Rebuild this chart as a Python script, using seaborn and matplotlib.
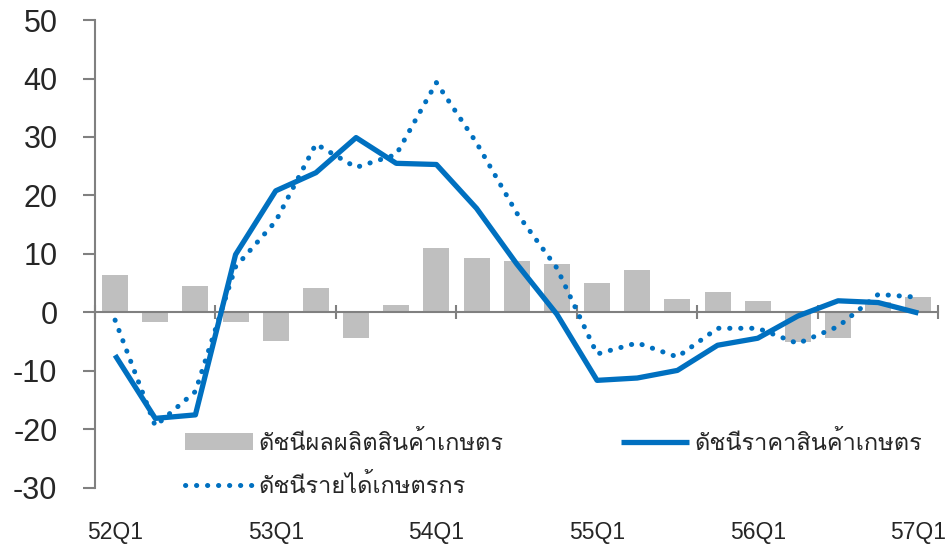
import numpy as np
import pandas as pd
import matplotlib
matplotlib.use("Agg")
import matplotlib.pyplot as plt
import seaborn as sns
from matplotlib import font_manager
from matplotlib.ft2font import FT2Font

quarters = ["52Q1", "52Q2", "52Q3", "52Q4", "53Q1", "53Q2", "53Q3", "53Q4",
            "54Q1", "54Q2", "54Q3", "54Q4", "55Q1", "55Q2", "55Q3", "55Q4",
            "56Q1", "56Q2", "56Q3", "56Q4", "57Q1"]
production = [6.4, -1.7, 4.6, -1.7, -4.8, 4.2, -4.3, 1.2, 11.1, 9.4, 8.8,
              8.3, 5.1, 7.3, 2.3, 3.5, 1.9, -5.1, -4.4, 1.8, 2.7]
price = [-7.3, -18.1, -17.5, 9.9, 20.8, 23.9, 29.9, 25.5, 25.3, 17.8, 8.3,
         -0.3, -11.6, -11.2, -9.9, -5.6, -4.4, -0.6, 2.0, 1.7, -0.1]
income = [-1.3, -19.4, -13.5, 7.8, 15.6, 28.8, 24.8, 27.0, 39.3, 29.0, 17.0,
          7.6, -7.1, -5.2, -7.6, -2.7, -2.7, -5.3, -2.4, 3.1, 2.6]
shown_labels = ["52Q1", "53Q1", "54Q1", "55Q1", "56Q1", "57Q1"]
name_prod = "ดัชนีผลผลิตสินค้าเกษตร"
name_price = "ดัชนีราคาสินค้าเกษตร"
name_income = "ดัชนีรายได้เกษตรกร"

sns.set_style("white")
plt.rcParams["axes.unicode_minus"] = False

# find a font with Thai glyphs
thai_family = None
for fe in font_manager.fontManager.ttflist:
    try:
        f = FT2Font(fe.fname)
        cm = f.get_charmap()
        if 0x0E14 in cm and 0x0E0A in cm:
            thai_family = fe.name
            break
    except Exception:
        pass
num_family = ["Liberation Sans", "DejaVu Sans"]
legend_family = ([thai_family] if thai_family else []) + ["DejaVu Sans"]
plt.rcParams["font.family"] = num_family

df = pd.DataFrame({"q": quarters, "i": np.arange(len(quarters)),
                   "prod": production, "price": price, "income": income})

fig = plt.figure(figsize=(9.49, 5.45), dpi=100)
ax = fig.add_axes([0.1001, 0.1046, 0.8888, 0.8587])

blue = "#0070C0"
gray_axis = "#808080"

sns.barplot(data=df, x="q", y="prod", order=quarters, color="#BFBFBF",
            width=0.65, errorbar=None, linewidth=0, saturation=1, ax=ax,
            label=name_prod, zorder=1)
sns.lineplot(data=df, x="i", y="price", color=blue, lw=3.8, ax=ax,
             label=name_price, zorder=3, solid_capstyle="butt")
sns.lineplot(data=df, x="i", y="income", color=blue, lw=3.6, ax=ax,
             label=name_income, zorder=3, linestyle=(0, (0.05, 2.15)),
             dash_capstyle="round")

ax.set_xlim(-0.5, len(quarters) - 0.5)
ax.set_ylim(-30, 50)
ax.set_yticks(np.arange(-30, 51, 10))
ax.set_xlabel("")
ax.set_ylabel("")

for s in ["top", "right", "bottom"]:
    ax.spines[s].set_visible(False)
ax.spines["left"].set_color(gray_axis)
ax.spines["left"].set_linewidth(1.5)
ax.tick_params(axis="y", direction="out", length=9, width=1.5,
               color=gray_axis, labelsize=22, pad=18, left=True)

pos = [quarters.index(l) for l in shown_labels]
ax.set_xticks(pos)
ax.set_xticklabels(shown_labels)
ax.tick_params(axis="x", length=0, labelsize=16.5, pad=24, bottom=True)

# zero axis with tick marks
sec = ax.secondary_xaxis(30 / 80)
sec.spines["bottom"].set_color(gray_axis)
sec.spines["bottom"].set_linewidth(1.5)
sec.set_xticks(np.arange(-0.5, len(quarters), 3))
sec.set_xticklabels([])
sec.tick_params(axis="x", direction="inout", length=10, width=1.5,
                color=gray_axis)
sec.set_zorder(1.5)

handles, labels = ax.get_legend_handles_labels()
hmap = dict(zip(labels, handles))
order = [name_prod, name_income, name_price]
leg = ax.legend([hmap[k] for k in order], order, ncol=2, loc="upper left",
                bbox_to_anchor=(0.107, 0.122), frameon=False, borderpad=0,
                borderaxespad=0, handlelength=2.85, handletextpad=0.25,
                columnspacing=5.0, labelspacing=0.8,
                prop={"family": legend_family, "size": 17})

fig.savefig("out.png", dpi=100)
